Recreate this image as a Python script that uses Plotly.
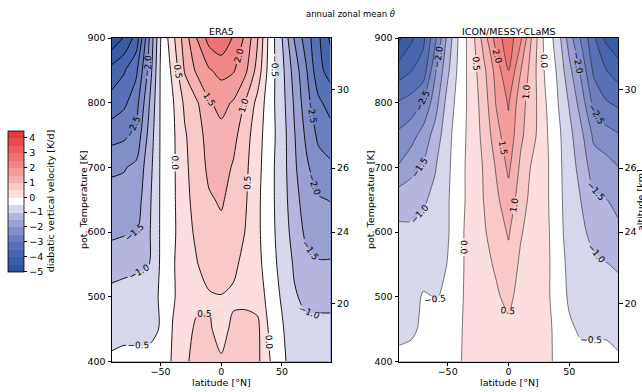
import plotly.graph_objects as go

# ---------------- data ----------------
lat = [-90, -80, -70, -60, -50, -40, -30, -20, -10, 0, 10, 20, 30, 40, 50, 60, 70, 80, 90]
theta = [400, 450, 500, 550, 600, 650, 700, 750, 800, 850, 900]

# ERA5 annual zonal mean diabatic heating rate [K/d]; one row per theta level (400 -> 900 K)
era5_400 = [-0.45, -0.4, -0.4, -0.4, -0.3, 0.05, 0.35, 0.8, 0.75, 0.55, 0.8, 0.85, 0.6, 0.02, -0.4, -0.7, -0.8, -0.8, -0.8]
era5_450 = [-0.6, -0.6, -0.6, -0.6, -0.48, 0.02, 0.3, 0.6, 0.55, 0.35, 0.6, 0.65, 0.6, -0.1, -0.45, -0.8, -0.9, -0.9, -0.9]
era5_500 = [-0.85, -0.8, -0.75, -0.7, -0.45, -0.05, 0.2, 0.35, 0.45, 0.48, 0.42, 0.4, 0.35, -0.25, -0.55, -0.95, -1.1, -1.1, -1.1]
era5_550 = [-1.2, -1.15, -1.1, -1.02, -0.45, -0.05, 0.25, 0.48, 0.7, 0.75, 0.6, 0.35, 0.15, -0.3, -0.65, -1.05, -1.35, -1.45, -1.45]
era5_600 = [-1.6, -1.55, -1.52, -1.1, -0.45, -0.1, 0.3, 0.6, 0.85, 0.9, 0.8, 0.48, 0.1, -0.35, -0.7, -1.2, -1.6, -1.75, -1.75]
era5_650 = [-1.86, -1.83, -1.75, -1.15, -0.45, -0.1, 0.35, 0.7, 0.95, 1.05, 0.85, 0.55, 0.1, -0.35, -0.75, -1.3, -1.75, -1.95, -2.02]
era5_700 = [-2.06, -2.03, -1.9, -1.25, -0.45, -0.1, 0.4, 0.75, 1.1, 1.2, 0.95, 0.6, 0.15, -0.35, -0.75, -1.4, -1.9, -2.3, -2.4]
era5_750 = [-2.7, -2.6, -2.35, -1.4, -0.45, -0.1, 0.45, 0.8, 1.2, 1.35, 1.15, 0.7, 0.2, -0.3, -0.75, -1.45, -2.1, -2.6, -2.8]
era5_800 = [-3.3, -3.1, -2.7, -1.6, -0.45, -0.05, 0.6, 0.95, 1.45, 1.65, 1.45, 0.95, 0.35, -0.3, -0.8, -1.55, -2.3, -2.9, -3.2]
era5_850 = [-3.8, -3.55, -3.1, -1.9, -0.45, 0.1, 1.05, 1.6, 1.95, 2.15, 2.05, 1.6, 0.8, -0.25, -0.85, -1.7, -2.45, -3.35, -3.7]
era5_900 = [-4.9, -4.45, -3.8, -2.1, -0.52, 0.35, 1.25, 2.02, 2.7, 2.9, 2.45, 1.9, 1.02, -0.2, -0.98, -2.02, -2.75, -3.4, -4.1]

# ICON/MESSy-CLaMS
icon_400 = [-0.4, -0.4, -0.35, -0.3, -0.3, -0.03, 0.2, 0.25, 0.3, 0.3, 0.3, 0.25, 0.15, -0.1, -0.35, -0.4, -0.4, -0.4, -0.45]
icon_450 = [-0.6, -0.55, -0.45, -0.4, -0.35, -0.05, 0.2, 0.3, 0.35, 0.4, 0.3, 0.25, 0.2, -0.15, -0.45, -0.55, -0.55, -0.55, -0.6]
icon_500 = [-0.75, -0.7, -0.45, -0.52, -0.45, -0.08, 0.2, 0.35, 0.45, 0.6, 0.35, 0.25, 0.2, -0.3, -0.55, -0.7, -0.75, -0.8, -0.85]
icon_550 = [-0.85, -0.85, -0.75, -0.75, -0.48, -0.1, 0.2, 0.4, 0.55, 0.85, 0.4, 0.25, 0.2, -0.3, -0.6, -0.8, -0.9, -0.98, -1.05]
icon_600 = [-0.9, -0.9, -0.9, -0.8, -0.55, -0.1, 0.2, 0.45, 0.75, 1.05, 0.55, 0.25, 0.2, -0.35, -0.65, -0.9, -1.15, -1.25, -1.35]
icon_650 = [-1.2, -1.2, -1.05, -0.9, -0.55, -0.15, 0.2, 0.52, 0.9, 1.3, 0.75, 0.3, 0.15, -0.35, -0.7, -1.02, -1.4, -1.48, -1.7]
icon_700 = [-1.95, -1.65, -1.45, -1.02, -0.6, -0.15, 0.2, 0.55, 1.05, 1.6, 0.9, 0.4, 0.15, -0.35, -0.75, -1.2, -1.75, -1.8, -1.98]
icon_750 = [-2.4, -2.2, -1.8, -1.3, -0.65, -0.2, 0.2, 0.65, 1.3, 1.85, 1.1, 0.65, 0.1, -0.35, -0.85, -1.4, -2.1, -2.3, -2.45]
icon_800 = [-2.95, -2.8, -2.45, -1.7, -0.8, -0.25, 0.2, 0.75, 1.55, 2.05, 1.2, 0.7, 0.05, -0.45, -1.05, -1.75, -2.65, -2.95, -3.1]
icon_850 = [-3.75, -3.52, -3.3, -2.05, -1.1, -0.3, 0.25, 0.9, 1.7, 2.52, 1.52, 0.7, -0.05, -0.55, -1.35, -2.15, -3.1, -3.48, -3.75]
icon_900 = [-4.6, -4.1, -3.6, -2.6, -1.35, -0.35, 0.3, 1.25, 2.25, 2.8, 2.1, 0.85, -0.15, -0.7, -1.75, -2.6, -3.4, -4.1, -4.4]

era5 = [era5_400, era5_450, era5_500, era5_550, era5_600, era5_650,
        era5_700, era5_750, era5_800, era5_850, era5_900]
icon = [icon_400, icon_450, icon_500, icon_550, icon_600, icon_650,
        icon_700, icon_750, icon_800, icon_850, icon_900]

lat_ticks = [-50, 0, 50]
theta_ticks = [400, 500, 600, 700, 800, 900]
alt_km = [20, 24, 26, 30]
alt_theta = [489, 600, 699, 820]
cbar_ticks = [-5, -4, -3, -2, -1, 0, 1, 2, 3, 4]
lev_start, lev_end, lev_step = -5.0, 4.5, 0.5

# ---------------- styles ----------------
W, H = 642, 392
FONT = "DejaVu Sans"
bin_colors = [  # one per 0.5 K/d band, from [-5,-4.5] up to [4,4.5]
    "#2c54a2", "#395ca7", "#4765ad", "#5870b5", "#6c7ebe",
    "#828ec8", "#9ba0d2", "#b4b6de", "#d7d7ec", "#ffffff",
    "#fcdede", "#f9c8c8", "#f6b2b2", "#f39c9c", "#f08787",
    "#ee7272", "#eb5e5e", "#e94b4b", "#e63939",
]

def fill_scale(colors):
    ext = [colors[0]] + colors + [colors[-1]]
    n = len(ext) - 1
    sc = []
    for j, c in enumerate(ext):
        lo = max(0.0, (j - 0.5) / n)
        hi = min(1.0, (j + 0.5) / n)
        sc += [[lo, c], [hi, c]]
    return sc

def bar_scale(colors):
    n = len(colors)
    sc = []
    for k, c in enumerate(colors):
        sc += [[k / n, c], [(k + 1) / n, c]]
    return sc

def px(x):
    return x / W

def py(y):
    return 1 - y / H

contour_cfg = dict(start=lev_start, end=lev_end, size=lev_step, coloring="fill",
                   showlabels=True, labelformat=".1f",
                   labelfont=dict(size=9, color="black", family=FONT))

fig = go.Figure()
fig.add_trace(go.Contour(x=lat, y=theta, z=era5, xaxis="x", yaxis="y",
                         autocontour=False, contours=contour_cfg,
                         colorscale=fill_scale(bin_colors), showscale=False,
                         line=dict(color="black", width=0.9, smoothing=0.8),
                         hoverinfo="skip"))
fig.add_trace(go.Contour(x=lat, y=theta, z=icon, xaxis="x2", yaxis="y2",
                         autocontour=False, contours=contour_cfg,
                         colorscale=fill_scale(bin_colors), showscale=False,
                         line=dict(color="#222222", width=0.6, smoothing=0.8),
                         hoverinfo="skip"))
# colour bar
fig.add_trace(go.Scatter(x=[None], y=[None], mode="markers", xaxis="x", yaxis="y",
                         showlegend=False, hoverinfo="skip",
                         marker=dict(color=[lev_start], cmin=lev_start, cmax=lev_end,
                                     colorscale=bar_scale(bin_colors), showscale=True,
                                     colorbar=dict(
                                         thickness=16, thicknessmode="pixels",
                                         len=141, lenmode="pixels",
                                         x=px(8), xanchor="left", y=py(201), yanchor="middle",
                                         xpad=0, ypad=0, outlinewidth=0.8, outlinecolor="black",
                                         tickvals=cbar_ticks, ticks="outside", ticklen=3.5,
                                         tickwidth=0.8, tickcolor="black",
                                         tickfont=dict(size=9.5, family=FONT, color="black"),
                                         title=dict(text="diabatic vertical velocity [K/d]",
                                                    side="right",
                                                    font=dict(size=9.5, family=FONT, color="black")),
                                     ))))
# dummy traces so the altitude axes are drawn
fig.add_trace(go.Scatter(x=[None], y=[None], xaxis="x", yaxis="y3", showlegend=False, hoverinfo="skip"))
fig.add_trace(go.Scatter(x=[None], y=[None], xaxis="x2", yaxis="y4", showlegend=False, hoverinfo="skip"))

ax = dict(showline=True, linecolor="black", linewidth=1, mirror=True, ticks="outside",
          ticklen=3.5, tickwidth=0.8, tickcolor="black", showgrid=False, zeroline=False,
          tickfont=dict(size=9.5, family=FONT, color="black"), automargin=False)
xax = dict(ax, ticklabelstandoff=-2)
ydom = [py(361.5), py(38)]
alt_ax = dict(side="right", range=[400, 900], tickvals=alt_theta,
              ticktext=[str(a) for a in alt_km], ticks="outside", ticklen=3.5,
              tickwidth=0.8, tickcolor="black", showgrid=False, zeroline=False,
              showline=False, tickfont=dict(size=9.5, family=FONT, color="black"),
              automargin=False)

fig.update_layout(
    width=W, height=H, margin=dict(l=0, r=0, t=0, b=0),
    paper_bgcolor="white", plot_bgcolor="white", showlegend=False,
    font=dict(family=FONT, size=9.5, color="black"),
    xaxis=dict(domain=[px(112), px(330.5)], range=[-90, 90], tickvals=lat_ticks, anchor="y", **xax),
    yaxis=dict(domain=ydom, range=[400, 900], tickvals=theta_ticks, anchor="x", **ax),
    xaxis2=dict(domain=[px(399), px(618)], range=[-90, 90], tickvals=lat_ticks, anchor="y2", **xax),
    yaxis2=dict(domain=ydom, range=[400, 900], tickvals=theta_ticks, anchor="x2", **ax),
    yaxis3=dict(overlaying="y", anchor="x", **alt_ax),
    yaxis4=dict(overlaying="y2", anchor="x2", **alt_ax),
)

def ann(text, x, y, size=9.5, angle=0):
    fig.add_annotation(text=text, x=px(x), y=py(y), xref="paper", yref="paper",
                       showarrow=False, textangle=angle, xanchor="center", yanchor="middle",
                       font=dict(size=size, family=FONT, color="black"))

ann("annual zonal mean <i>θ\u0307</i>", 351, 13, size=8.5)
ann("ERA5", 221, 31)
ann("ICON/MESSY-CLaMS", 509, 31)
ann("latitude [°N]", 221, 382.5)
ann("latitude [°N]", 509, 382.5)
ann("pot. Temperature [K]", 83, 200, angle=-90)
ann("pot. Temperature [K]", 370, 200, angle=-90)
ann("altitude [km]", 640, 200, angle=-90)

fig.write_html("out.html")
